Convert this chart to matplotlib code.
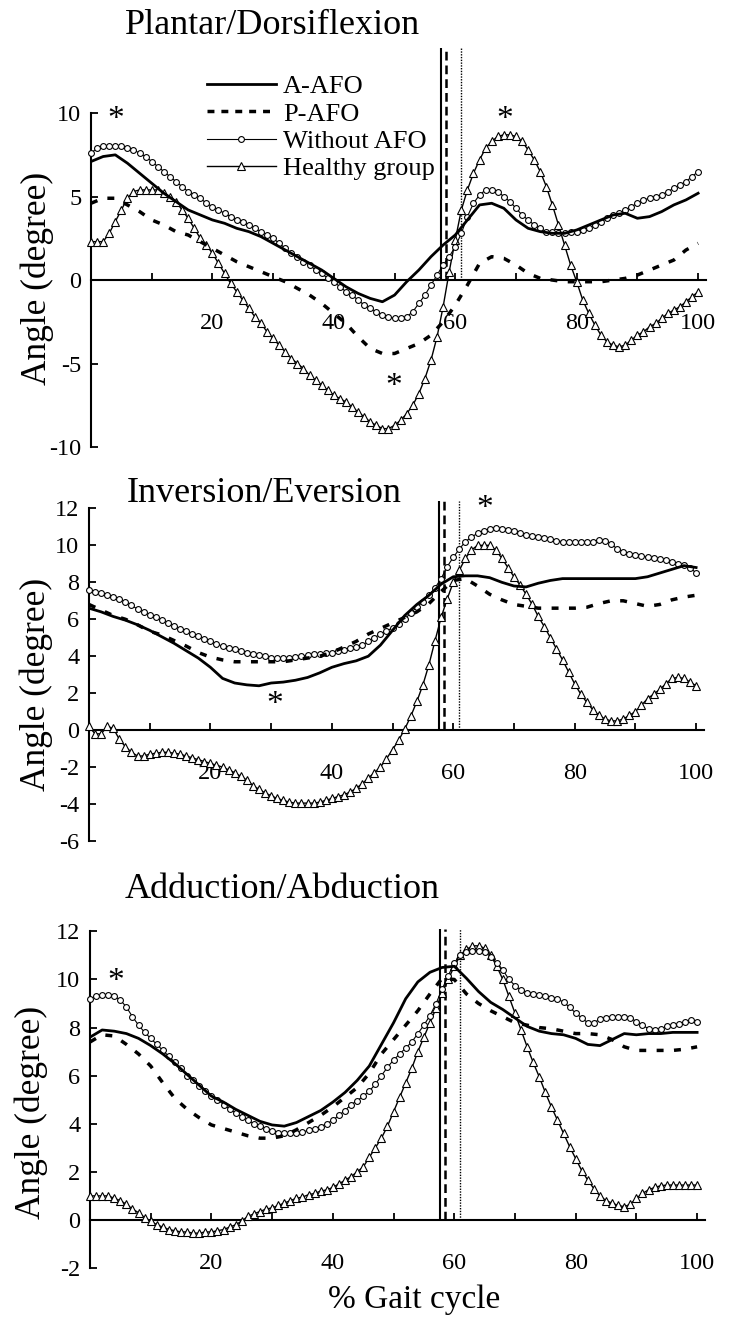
import numpy as np
import matplotlib
matplotlib.use('Agg')
import matplotlib.pyplot as plt
from matplotlib.lines import Line2D

plt.rcParams['font.family'] = ['Liberation Serif', 'DejaVu Serif']
plt.rcParams['axes.unicode_minus'] = False

W, H = 736, 1326

# % gait cycle: marker series every 1 %, plain lines every 2 %
x_fine = np.arange(0, 101)
x_coarse = np.arange(0, 101, 2)

# Plantar/Dorsiflexion
pd_healthy = [2.3, 2.3, 2.3, 2.8, 3.5, 4.2, 4.9, 5.3, 5.4, 5.4,
              5.4, 5.4, 5.2, 5.0, 4.7, 4.2, 3.7, 3.1, 2.5, 2.1,
              1.6, 1.0, 0.4, -0.2, -0.7, -1.2, -1.7, -2.2, -2.6, -3.1,
              -3.5, -3.9, -4.3, -4.7, -5.0, -5.3, -5.7, -6.0, -6.3, -6.6,
              -6.9, -7.1, -7.3, -7.6, -7.9, -8.2, -8.5, -8.7, -8.9, -8.9,
              -8.7, -8.4, -8.0, -7.5, -6.8, -5.9, -4.8, -3.4, -1.6, 0.5,
              2.4, 4.2, 5.4, 6.4, 7.2, 7.9, 8.3, 8.6, 8.7, 8.7,
              8.6, 8.3, 7.8, 7.2, 6.5, 5.6, 4.5, 3.3, 2.1, 0.9,
              -0.1, -1.2, -2.0, -2.7, -3.3, -3.7, -3.9, -4.0, -3.9, -3.6,
              -3.3, -3.1, -2.8, -2.6, -2.3, -2.0, -1.8, -1.6, -1.3, -1.0, -0.7]
pd_without = [7.6, 7.9, 8.0, 8.0, 8.0, 8.0, 7.9, 7.8, 7.6, 7.4,
              7.1, 6.8, 6.5, 6.2, 5.9, 5.6, 5.3, 5.1, 4.9, 4.6,
              4.4, 4.2, 4.0, 3.8, 3.6, 3.5, 3.3, 3.1, 2.9, 2.7,
              2.5, 2.2, 1.9, 1.6, 1.4, 1.1, 0.9, 0.6, 0.4, 0.1,
              -0.1, -0.4, -0.7, -0.9, -1.2, -1.5, -1.7, -1.9, -2.1, -2.2,
              -2.3, -2.3, -2.2, -1.9, -1.4, -0.9, -0.3, 0.3, 0.9, 1.4,
              2.0, 2.8, 3.8, 4.6, 5.1, 5.4, 5.4, 5.3, 5.0, 4.7,
              4.3, 3.9, 3.6, 3.3, 3.1, 2.9, 2.85, 2.8, 2.8, 2.85,
              2.9, 3.0, 3.1, 3.3, 3.5, 3.7, 3.9, 4.0, 4.2, 4.4,
              4.6, 4.8, 4.9, 5.0, 5.1, 5.3, 5.5, 5.7, 5.9, 6.2, 6.5]
pd_aafo = [7.1, 7.4, 7.5, 7.0, 6.4, 5.8, 5.2, 4.7, 4.2, 3.9,
           3.6, 3.4, 3.1, 2.9, 2.6, 2.2, 1.8, 1.4, 1.0, 0.6,
           0.1, -0.4, -0.8, -1.1, -1.3, -0.9, -0.1, 0.6, 1.4, 2.1,
           2.7, 3.6, 4.5, 4.6, 4.3, 3.6, 3.1, 2.9, 2.8, 2.8,
           3.0, 3.3, 3.6, 3.9, 4.0, 3.7, 3.8, 4.1, 4.5, 4.8, 5.2]
pd_pafo = [4.6, 4.9, 4.9, 4.5, 4.1, 3.6, 3.3, 2.9, 2.7, 2.3,
           1.9, 1.5, 1.1, 0.8, 0.5, 0.2, -0.1, -0.5, -0.9, -1.4,
           -2.0, -2.6, -3.4, -4.1, -4.4, -4.4, -4.1, -3.8, -3.3, -2.5,
           -1.5, -0.3, 1.0, 1.4, 1.3, 0.9, 0.4, 0.1, 0.0, -0.1,
           -0.1, -0.1, -0.1, 0.0, 0.1, 0.3, 0.6, 0.9, 1.2, 1.8, 2.2]

# Inversion/Eversion
ie_healthy = [0.2, -0.2, -0.2, 0.2, 0.1, -0.5, -0.9, -1.2, -1.4, -1.4,
              -1.3, -1.25, -1.2, -1.2, -1.25, -1.3, -1.4, -1.5, -1.6, -1.7,
              -1.8, -1.9, -2.0, -2.15, -2.3, -2.5, -2.7, -3.0, -3.2, -3.4,
              -3.55, -3.7, -3.8, -3.9, -3.95, -3.95, -3.95, -3.95, -3.9, -3.8,
              -3.7, -3.6, -3.5, -3.35, -3.15, -2.9, -2.6, -2.3, -2.0, -1.55,
              -1.05, -0.55, 0.05, 0.75, 1.55, 2.45, 3.55, 4.85, 6.1, 7.1,
              8.0, 8.65, 9.3, 9.75, 10.0, 10.0, 10.0, 9.75, 9.3, 8.8,
              8.3, 7.85, 7.35, 6.8, 6.15, 5.6, 5.0, 4.4, 3.8, 3.15,
              2.5, 1.95, 1.5, 1.1, 0.8, 0.6, 0.5, 0.5, 0.6, 0.8,
              1.0, 1.35, 1.7, 1.95, 2.2, 2.5, 2.8, 2.85, 2.8, 2.6, 2.4]
ie_without = [7.6, 7.5, 7.4, 7.3, 7.2, 7.1, 6.95, 6.75, 6.55, 6.4,
              6.25, 6.1, 5.95, 5.8, 5.65, 5.5, 5.35, 5.2, 5.1, 4.95,
              4.8, 4.65, 4.55, 4.45, 4.4, 4.3, 4.2, 4.1, 4.05, 4.0,
              3.9, 3.9, 3.9, 3.9, 3.95, 4.0, 4.05, 4.1, 4.1, 4.15,
              4.2, 4.3, 4.35, 4.45, 4.5, 4.6, 4.8, 5.0, 5.2, 5.35,
              5.55, 5.75, 6.0, 6.35, 6.65, 6.95, 7.3, 7.7, 8.2, 8.85,
              9.35, 9.8, 10.2, 10.45, 10.65, 10.8, 10.9, 10.95, 10.9, 10.85,
              10.75, 10.65, 10.55, 10.5, 10.45, 10.4, 10.35, 10.25, 10.2, 10.2,
              10.2, 10.2, 10.2, 10.2, 10.3, 10.25, 10.1, 9.8, 9.65, 9.55,
              9.5, 9.45, 9.35, 9.3, 9.25, 9.2, 9.1, 9.0, 8.95, 8.8, 8.5]
ie_aafo = [6.6, 6.4, 6.15, 5.95, 5.7, 5.4, 5.05, 4.7, 4.3, 3.9,
           3.4, 2.8, 2.55, 2.45, 2.4, 2.55, 2.6, 2.7, 2.85, 3.1,
           3.4, 3.6, 3.75, 4.0, 4.6, 5.4, 6.2, 6.8, 7.3, 7.9,
           8.3, 8.35, 8.35, 8.25, 8.0, 7.8, 7.75, 7.95, 8.1, 8.2,
           8.2, 8.2, 8.2, 8.2, 8.2, 8.2, 8.3, 8.5, 8.7, 8.9, 8.8]
ie_pafo = [6.8, 6.5, 6.2, 6.0, 5.7, 5.35, 5.15, 4.85, 4.55, 4.2,
           3.95, 3.8, 3.7, 3.7, 3.7, 3.7, 3.7, 3.8, 3.9, 4.0,
           4.2, 4.5, 4.8, 5.2, 5.5, 5.8, 6.1, 6.4, 6.85, 7.5,
           8.1, 8.2, 7.8, 7.35, 7.05, 6.8, 6.7, 6.6, 6.6, 6.6,
           6.6, 6.65, 6.85, 7.0, 7.0, 6.85, 6.7, 6.8, 7.05, 7.2, 7.3]

# Adduction/Abduction
aa_healthy = [1.0, 1.0, 1.0, 1.0, 0.9, 0.8, 0.65, 0.45, 0.3, 0.1,
              -0.05, -0.2, -0.3, -0.4, -0.45, -0.5, -0.5, -0.55, -0.55, -0.5,
              -0.5, -0.45, -0.4, -0.3, -0.2, -0.05, 0.15, 0.25, 0.35, 0.45,
              0.5, 0.6, 0.7, 0.8, 0.9, 0.95, 1.05, 1.1, 1.2, 1.25,
              1.35, 1.5, 1.65, 1.8, 2.0, 2.2, 2.6, 3.0, 3.4, 3.9,
              4.5, 5.1, 5.7, 6.3, 7.0, 7.6, 8.2, 8.8, 9.45, 10.0,
              10.55, 11.0, 11.25, 11.4, 11.4, 11.3, 11.0, 10.55, 10.0, 9.3,
              8.6, 7.9, 7.2, 6.55, 5.95, 5.3, 4.7, 4.15, 3.6, 3.05,
              2.55, 2.05, 1.65, 1.3, 1.0, 0.8, 0.7, 0.6, 0.55, 0.65,
              0.9, 1.1, 1.25, 1.35, 1.42, 1.45, 1.45, 1.45, 1.45, 1.45, 1.45]
aa_without = [9.2, 9.3, 9.35, 9.35, 9.3, 9.15, 8.85, 8.45, 8.1, 7.8,
              7.55, 7.3, 7.05, 6.8, 6.55, 6.3, 6.0, 5.8, 5.55, 5.35,
              5.15, 5.0, 4.8, 4.6, 4.45, 4.3, 4.15, 4.0, 3.9, 3.8,
              3.7, 3.6, 3.6, 3.6, 3.62, 3.66, 3.72, 3.8, 3.88, 4.0,
              4.15, 4.35, 4.55, 4.8, 4.95, 5.15, 5.35, 5.65, 6.0, 6.35,
              6.65, 6.9, 7.15, 7.4, 7.75, 8.1, 8.5, 9.0, 9.6, 10.15,
              10.7, 11.0, 11.15, 11.2, 11.2, 11.15, 10.95, 10.7, 10.4, 10.0,
              9.75, 9.55, 9.45, 9.4, 9.35, 9.3, 9.25, 9.2, 9.05, 8.85,
              8.6, 8.4, 8.2, 8.2, 8.35, 8.4, 8.45, 8.45, 8.45, 8.4,
              8.25, 8.1, 7.95, 7.9, 7.95, 8.05, 8.1, 8.15, 8.25, 8.3, 8.25]
aa_aafo = [7.6, 7.9, 7.85, 7.75, 7.55, 7.25, 6.9, 6.5, 6.05, 5.6,
           5.15, 4.9, 4.6, 4.35, 4.1, 3.95, 3.9, 4.05, 4.3, 4.55,
           4.9, 5.3, 5.8, 6.4, 7.3, 8.2, 9.2, 9.9, 10.3, 10.5,
           10.55, 10.05, 9.5, 9.05, 8.75, 8.4, 8.05, 7.85, 7.75, 7.7,
           7.55, 7.3, 7.25, 7.5, 7.75, 7.7, 7.75, 7.75, 7.8, 7.8, 7.8]
aa_pafo = [7.4, 7.7, 7.65, 7.3, 6.9, 6.4, 5.7, 5.05, 4.6, 4.25,
           3.95, 3.8, 3.65, 3.5, 3.4, 3.4, 3.5, 3.75, 4.05, 4.35,
           4.7, 5.1, 5.5, 6.1, 6.9, 7.5, 8.1, 8.7, 9.4, 10.05,
           10.0, 9.4, 9.0, 8.7, 8.45, 8.2, 8.1, 8.0, 7.95, 7.85,
           7.75, 7.75, 7.7, 7.5, 7.2, 7.05, 7.05, 7.05, 7.05, 7.1, 7.2]

# toe-off markers (% gait cycle) for A-AFO, P-AFO, without AFO
toe_off = [57.7, 58.4, 60.9]

fig = plt.figure(figsize=(W / 100, H / 100), dpi=100)


def panel(px_rect, ylim, yticks, aafo, pafo, without, healthy, stars):
    left, top, right, bottom = px_rect
    ax = fig.add_axes([left / W, 1 - bottom / H, (right - left) / W, (bottom - top) / H])
    ax.set_xlim(0, 101.3)
    ax.set_ylim(*ylim)
    for s in ['top', 'right']:
        ax.spines[s].set_visible(False)
    ax.spines['bottom'].set_position(('data', 0))
    ax.spines['left'].set_bounds(yticks[0], yticks[-1])
    for s in ['left', 'bottom']:
        ax.spines[s].set_linewidth(1.5)
    ax.set_yticks(yticks)
    ax.set_yticklabels([str(t) for t in yticks])
    ax.set_xticks(range(10, 101, 10))
    ax.set_xticklabels(['' if t % 20 else str(t) for t in range(10, 101, 10)])
    ax.tick_params(axis='both', direction='in', length=5, width=1.3, labelsize=17.5)
    ax.tick_params(axis='x', pad=24)
    ax.tick_params(axis='y', pad=7)

    ax.vlines(toe_off[0], 0, ylim[1], color='black', lw=1.5)
    ax.vlines(toe_off[1], 0, ylim[1], color='black', lw=1.8, linestyles=(0, (3.5, 2)))
    ax.vlines(toe_off[2], 0, ylim[1], color='black', lw=1.0, linestyles=(0, (1, 1)))

    ax.plot(x_fine, healthy, color='black', lw=1.0, marker='^', ms=5.2, mfc='white',
            mec='black', mew=0.8, clip_on=False, zorder=3)
    ax.plot(x_fine, without, color='black', lw=0.8, marker='o', ms=4.2, mfc='white',
            mec='black', mew=0.8, clip_on=False, zorder=3)
    ax.plot(x_coarse, pafo, color='black', lw=2.5, dashes=(2.0, 3.0), zorder=4)
    ax.plot(x_coarse, aafo, color='black', lw=2.0, zorder=4)

    for sx, sy in stars:
        ax.text(sx, sy, '*', ha='center', va='center', fontsize=24)
    return ax


ax1 = panel((91, 48, 706, 447), (-10, 13.9), [-10, -5, 0, 5, 10],
            pd_aafo, pd_pafo, pd_without, pd_healthy,
            [(4.0, 9.6), (68.2, 9.6), (49.8, -6.4)])
ax2 = panel((89, 501, 704, 841), (-6, 12.4), [-6, -4, -2, 0, 2, 4, 6, 8, 10, 12],
            ie_aafo, ie_pafo, ie_without, ie_healthy,
            [(65.2, 12.0), (30.6, 1.4)])
ax3 = panel((90, 929, 705, 1268), (-2, 12.1), [-2, 0, 2, 4, 6, 8, 10, 12],
            aa_aafo, aa_pafo, aa_without, aa_healthy,
            [(4.2, 9.9)])

handles = [
    Line2D([], [], color='black', lw=2.0),
    Line2D([], [], color='black', lw=2.5, dashes=(2.0, 2.0)),
    Line2D([], [], color='black', lw=0.8, marker='o', ms=4.2, mfc='white', mew=0.8),
    Line2D([], [], color='black', lw=1.0, marker='^', ms=5.2, mfc='white', mew=0.8),
]
labels = ['A-AFO', 'P-AFO', 'Without AFO', 'Healthy group']
ax1.legend(handles, labels, loc='upper left', bbox_to_anchor=(207 / W, 1 - 75 / H),
           bbox_transform=fig.transFigure, frameon=False, fontsize=19,
           handlelength=2.6, handletextpad=0.28, labelspacing=0.14,
           borderpad=0, borderaxespad=0, numpoints=1)

fig.text(125 / W, 1 - 25 / H, 'Plantar/Dorsiflexion', fontsize=26, ha='left', va='center')
fig.text(127 / W, 1 - 493 / H, 'Inversion/Eversion', fontsize=26, ha='left', va='center')
fig.text(125 / W, 1 - 890 / H, 'Adduction/Abduction', fontsize=26, ha='left', va='center')

for yc, xc in [(278, 37), (684, 36), (1112, 31)]:
    fig.text(xc / W, 1 - yc / H, 'Angle (degree)', fontsize=25.5, rotation=90,
             ha='center', va='center')

fig.text(414 / W, 1 - 1300 / H, '% Gait cycle', fontsize=24, ha='center', va='center')

fig.savefig('out.png', dpi=100)
